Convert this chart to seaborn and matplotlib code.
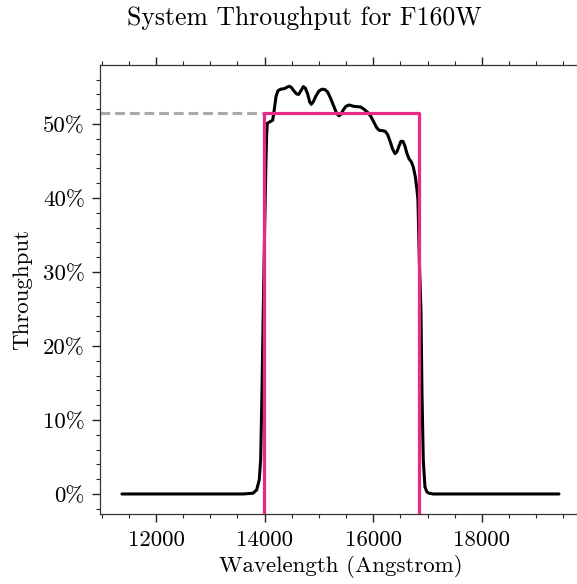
import numpy as np
import pandas as pd
import matplotlib
matplotlib.use("Agg")
import matplotlib.pyplot as plt
from matplotlib.ticker import MultipleLocator, FuncFormatter
import seaborn as sns

# Throughput curve (wavelength in Angstrom, throughput as fraction)
wavelength = [11374, 12000, 13000, 13600, 13785, 13853, 13901, 13927, 13951, 13975, 14001,
              14025, 14037, 14049, 14098, 14148, 14177, 14209, 14245, 14295, 14374,
              14417, 14453, 14490, 14540, 14590, 14626, 14669, 14711, 14748, 14792,
              14829, 14858, 14895, 14945, 15000, 15055, 15110, 15160, 15215, 15276,
              15325, 15368, 15405, 15447, 15497, 15558, 15631, 15705, 15768, 15828,
              15896, 15957, 16012, 16062, 16110, 16172, 16221, 16264, 16312, 16356,
              16399, 16436, 16472, 16509, 16546, 16583, 16620, 16657, 16699, 16736,
              16773, 16804, 16822, 16847, 16877, 16896, 16920, 16951, 16985, 17012,
              17098, 18000, 19417]
throughput = [0.0, 0.0, 0.0, 0.0, 0.001, 0.0054, 0.019, 0.046, 0.136, 0.249, 0.361,
              0.451, 0.485, 0.501, 0.503, 0.505, 0.519, 0.537, 0.545, 0.547, 0.548,
              0.550, 0.551, 0.5496, 0.5446, 0.5405, 0.540, 0.545, 0.5505, 0.5486, 0.5405,
              0.530, 0.5266, 0.530, 0.538, 0.5446, 0.547, 0.5466, 0.5432, 0.5345, 0.5234,
              0.5144, 0.511, 0.513, 0.519, 0.524, 0.5257, 0.524, 0.5234, 0.523, 0.520,
              0.5157, 0.510, 0.5022, 0.495, 0.4914, 0.491, 0.490, 0.4856, 0.476, 0.466,
              0.460, 0.4626, 0.470, 0.4766, 0.4766, 0.470, 0.460, 0.453, 0.449, 0.442,
              0.4288, 0.411, 0.397, 0.316, 0.249, 0.136, 0.046, 0.0095, 0.003, 0.0014,
              0.0, 0.0, 0.0]

# Equivalent rectangular bandpass
box_left = 13990
box_right = 16845
box_height = 0.515

x_ticks = [12000, 14000, 16000, 18000]
y_ticks = [0.0, 0.1, 0.2, 0.3, 0.4, 0.5]

sns.set_style("ticks")
plt.rcParams["font.family"] = ["cmr10", "DejaVu Serif"]
plt.rcParams["axes.formatter.use_mathtext"] = True
plt.rcParams["mathtext.fontset"] = "cm"
plt.rcParams["text.color"] = "black"
plt.rcParams["axes.labelcolor"] = "black"
plt.rcParams["xtick.color"] = "black"
plt.rcParams["ytick.color"] = "black"

df = pd.DataFrame({"Wavelength": wavelength, "Throughput": throughput})

fig = plt.figure(figsize=(5.77, 5.84), dpi=100)
ax = fig.add_axes([100.1 / 577, 1 - 514.4 / 584, (580.8 - 100.1) / 577, (514.4 - 65.1) / 584])

pink = "#e7298a"
ymin, ymax = -0.0276, 0.5796
xmin, xmax = 10972, 19819

sns.lineplot(data=df, x="Wavelength", y="Throughput", ax=ax, color="black", lw=2.2,
             zorder=3, sort=False)
for ln in ax.lines:
    ln.set_solid_joinstyle("round")
    ln.set_solid_capstyle("round")
ax.plot([xmin, box_left], [box_height, box_height], color="#aaaaaa", lw=2.2,
        ls=(0, (3.2, 1.6)), zorder=2)
ax.plot([box_left, box_left, box_right, box_right],
        [ymin - 0.05, box_height, box_height, ymin - 0.05], color=pink, lw=2.3, zorder=4)

ax.set_xlim(xmin, xmax)
ax.set_ylim(ymin, ymax)
ax.set_xticks(x_ticks)
ax.set_yticks(y_ticks)
ax.xaxis.set_minor_locator(MultipleLocator(500))
ax.yaxis.set_minor_locator(MultipleLocator(0.02))
ax.yaxis.set_major_formatter(FuncFormatter(lambda v, p: f"{int(round(v * 100))}%"))
ax.xaxis.set_major_formatter(FuncFormatter(lambda v, p: f"{int(v)}"))

ax.tick_params(which="both", top=True, right=True, direction="out", color="#222222",
               labelsize=16.5)
ax.tick_params(which="major", length=5.5, width=1.0)
ax.tick_params(which="minor", length=2.8, width=0.8)
ax.tick_params(axis="x", which="major", pad=6)
ax.tick_params(axis="y", which="major", pad=5.5)
for s in ax.spines.values():
    s.set_visible(True)
    s.set_linewidth(0.9)
    s.set_color("#333333")

ax.set_xlabel("Wavelength (Angstrom)", fontsize=16.5, labelpad=4)
ax.set_ylabel("Throughput", fontsize=16.5, labelpad=8)
fig.text(304 / 577, 1 - 18 / 584, "System Throughput for F160W", ha="center", va="center",
         fontsize=18.5)

fig.savefig("out.png", dpi=100)
